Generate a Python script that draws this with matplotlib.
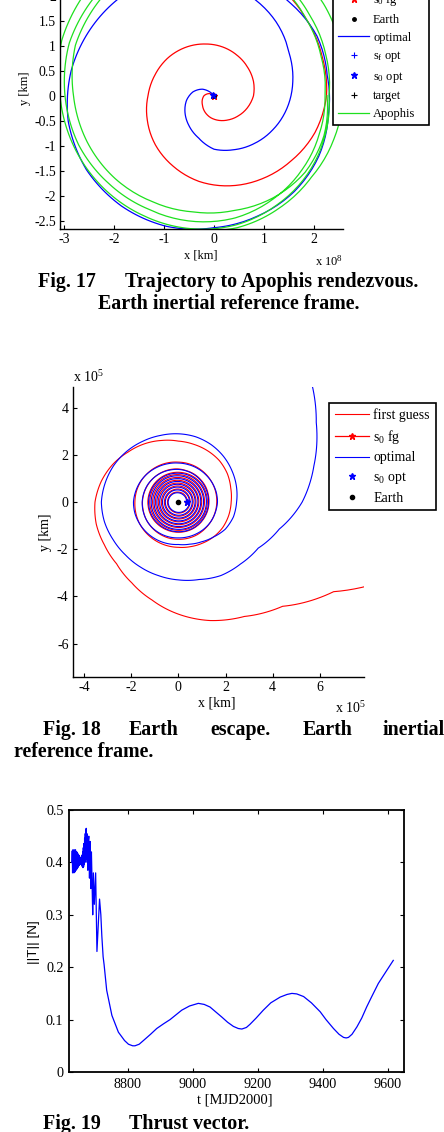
import numpy as np
import matplotlib
matplotlib.use('Agg')
import matplotlib.pyplot as plt
from matplotlib.lines import Line2D
from matplotlib.projections.polar import PolarAxes

W, H = 444, 1132

# ---------------- Fig. 17 : trajectory to Apophis (units 1e8 km) ----------------
# radius read every 20 deg (counter-clockwise), first angle given separately
fg17_theta0 = 120
fg17_r = [0.00, 0.03, 0.12, 0.20, 0.25, 0.30, 0.37, 0.44, 0.50, 0.56, 0.63, 0.71, 0.79,
          0.84, 0.88, 0.93, 0.99, 1.05, 1.12, 1.19, 1.25, 1.32,
          1.42, 1.53, 1.63, 1.74, 1.83, 1.92, 2.02, 2.15, 2.25,
          2.30, 2.40, 2.55, 2.70]
opt17_theta0 = 130
opt17_r = [0.02, 0.26, 0.43, 0.56, 0.67, 0.78, 0.90, 1.07, 1.15, 1.25, 1.36, 1.48,
           1.60, 1.73, 1.93, 2.12, 2.35, 2.55, 2.70, 2.80, 2.90, 2.96, 2.95, 2.88,
           2.78, 2.64, 2.56, 2.50, 2.42, 2.32, 2.30, 2.38, 2.40, 2.45, 2.60]
apo17_theta0 = -100
apo17_r = [2.72, 2.68, 2.60, 2.54, 2.55, 2.58, 2.70, 2.86, 3.00, 3.12, 3.22, 3.28, 3.30,
           3.24, 3.08, 2.98, 2.88, 2.78, 2.70,
           2.62, 2.52, 2.44, 2.36, 2.30, 2.38, 2.50, 2.68, 2.85, 2.97, 3.06, 3.10,
           3.08, 2.98, 2.88, 2.74, 2.62, 2.55,
           2.48, 2.38, 2.30, 2.24, 2.22, 2.28, 2.40, 2.58, 2.75, 2.88, 2.96, 2.98,
           2.95, 2.81, 2.70, 2.58, 2.45, 2.36, 2.33, 2.36, 2.38, 2.34, 2.26]
step17 = 20
earth_xy = (0.0, 0.0)

# ---------------- Fig. 18 : Earth escape (units 1e5 km) ----------------
# dense inner turns, radius every 30 deg (one row per turn)
fg18_core = [0.38, 0.39, 0.41, 0.42, 0.44, 0.45, 0.46, 0.46, 0.46, 0.47, 0.48, 0.49,
             0.50, 0.51, 0.53, 0.55, 0.56, 0.58, 0.59, 0.59, 0.59, 0.60, 0.61, 0.62,
             0.63, 0.64, 0.66, 0.68, 0.69, 0.71, 0.72, 0.72, 0.71, 0.72, 0.73, 0.74,
             0.75, 0.76, 0.78, 0.80, 0.82, 0.84, 0.85, 0.84, 0.83, 0.84, 0.85, 0.86,
             0.87, 0.88, 0.90, 0.92, 0.94, 0.96, 0.97, 0.96, 0.95, 0.96, 0.97, 0.98,
             0.99, 1.00, 1.02, 1.04, 1.06, 1.08, 1.09, 1.08, 1.07, 1.08, 1.09, 1.10,
             1.11, 1.12, 1.14, 1.16, 1.18, 1.20, 1.21, 1.20, 1.19, 1.20, 1.21, 1.22,
             1.23, 1.24, 1.25, 1.26, 1.27, 1.28, 1.29, 1.29, 1.28, 1.28, 1.29, 1.29]
opt18_core = [0.35, 0.36, 0.37, 0.39, 0.41, 0.42, 0.43, 0.43, 0.43, 0.44, 0.45, 0.46,
              0.47, 0.48, 0.49, 0.51, 0.53, 0.54, 0.55, 0.55, 0.55, 0.56, 0.57, 0.58,
              0.59, 0.60, 0.61, 0.63, 0.65, 0.66, 0.67, 0.67, 0.67, 0.68, 0.69, 0.70,
              0.71, 0.72, 0.73, 0.75, 0.77, 0.78, 0.79, 0.79, 0.79, 0.80, 0.81, 0.82,
              0.83, 0.84, 0.85, 0.87, 0.89, 0.90, 0.91, 0.91, 0.91, 0.92, 0.93, 0.94,
              0.95, 0.96, 0.97, 0.99, 1.01, 1.02, 1.03, 1.03, 1.03, 1.04, 1.05, 1.06,
              1.07, 1.08, 1.09, 1.11, 1.13, 1.14, 1.15, 1.15, 1.15, 1.16, 1.17, 1.18,
              1.19, 1.20, 1.21, 1.22, 1.24, 1.25, 1.26, 1.26, 1.25, 1.26, 1.27, 1.27]
core_step = 30
# outer turns, radius every 15 deg, continuing from the core
fg18_outer = [1.30, 1.31, 1.33, 1.34, 1.36, 1.37, 1.40, 1.42, 1.44, 1.46, 1.48, 1.50,
              1.52, 1.53, 1.55, 1.56, 1.57, 1.58, 1.58, 1.59, 1.60, 1.60, 1.61, 1.62,
              1.63, 1.64, 1.65, 1.66, 1.67, 1.68, 1.69, 1.72, 1.75, 1.78, 1.81, 1.83,
              1.84, 1.86, 1.88, 1.89, 1.90, 1.91, 1.92, 1.96, 2.02, 2.10, 2.17, 2.21,
              2.24, 2.30, 2.40, 2.47, 2.50, 2.53, 2.58, 2.70, 2.85, 3.00, 3.20, 3.38,
              3.53, 3.60, 3.62, 3.70, 3.95, 4.30, 4.75, 5.20, 5.60, 6.25, 7.60, 10.5]
opt18_outer = [1.28, 1.29, 1.30, 1.32, 1.34, 1.36, 1.38, 1.40, 1.43, 1.46, 1.49, 1.51,
               1.53, 1.54, 1.55, 1.55, 1.54, 1.53, 1.52, 1.53, 1.55, 1.58, 1.61, 1.63,
               1.66, 1.66, 1.65, 1.64, 1.64, 1.64, 1.65, 1.68, 1.72, 1.77, 1.82, 1.86,
               1.90, 1.90, 1.88, 1.86, 1.84, 1.82, 1.80, 1.85, 1.95, 2.10, 2.30, 2.42,
               2.47, 2.55, 2.63, 2.72, 2.80, 2.86, 2.89, 2.92, 2.98, 3.06, 3.14, 3.20,
               3.26, 3.24, 3.19, 3.17, 3.19, 3.23, 3.30, 3.40, 3.60, 3.72, 3.91, 4.43,
               5.25, 5.95, 6.75, 7.80]
outer_step = 15

# ---------------- Fig. 19 : thrust magnitude ----------------
t19 = [8628, 8629, 8630, 8631, 8632, 8633, 8634, 8635, 8636, 8637, 8638, 8639,
       8640, 8641, 8642, 8643, 8644, 8645, 8646, 8647, 8648, 8649, 8650, 8651,
       8652, 8653, 8654, 8655, 8656, 8657, 8658, 8659, 8660, 8661, 8662, 8663,
       8664, 8665, 8666, 8667, 8668, 8669, 8670, 8671, 8672, 8673, 8674, 8675,
       8676, 8677, 8678, 8680, 8682, 8684, 8686, 8688, 8690, 8692, 8694, 8697,
       8701, 8705, 8709, 8713, 8717, 8720, 8724, 8727, 8735, 8751, 8771, 8790,
       8802, 8815, 8822, 8835, 8848, 8870, 8889, 8910, 8930, 8950, 8966, 8990,
       9017, 9035, 9053, 9070, 9089, 9107, 9125, 9140, 9151, 9165, 9176, 9195,
       9217, 9240, 9269, 9290, 9305, 9320, 9341, 9365, 9392, 9410, 9433, 9450,
       9464, 9472, 9479, 9490, 9505, 9520, 9535, 9550, 9571, 9595, 9617]
T19 = [0.400, 0.422, 0.380, 0.424, 0.382, 0.422, 0.380, 0.424, 0.384, 0.422, 0.382, 0.424,
       0.385, 0.420, 0.386, 0.420, 0.388, 0.418, 0.390, 0.416, 0.392, 0.414, 0.394, 0.412,
       0.396, 0.410, 0.398, 0.408, 0.396, 0.410, 0.394, 0.414, 0.392, 0.420, 0.390, 0.428,
       0.392, 0.436, 0.396, 0.446, 0.400, 0.455, 0.405, 0.462, 0.465, 0.410, 0.455, 0.400,
       0.450, 0.385, 0.440, 0.450, 0.370, 0.440, 0.350, 0.420, 0.360, 0.300, 0.380, 0.320,
       0.380, 0.230, 0.280, 0.330, 0.300, 0.260, 0.220, 0.205, 0.156, 0.108, 0.076, 0.060,
       0.053, 0.050, 0.050, 0.053, 0.060, 0.072, 0.083, 0.092, 0.100, 0.110, 0.118, 0.126,
       0.131, 0.129, 0.124, 0.115, 0.105, 0.095, 0.087, 0.083, 0.082, 0.085, 0.091, 0.103,
       0.118, 0.132, 0.143, 0.148, 0.150, 0.149, 0.144, 0.132, 0.115, 0.100, 0.083, 0.072,
       0.066, 0.065, 0.066, 0.072, 0.086, 0.103, 0.124, 0.143, 0.169, 0.192, 0.213]

# (theta, r) -> (x, y); lines drawn through it get curved between samples
POLAR = PolarAxes.PolarTransform(apply_theta_transforms=False)


def angles(theta0, step, r):
    return np.deg2rad(theta0 + step * np.arange(len(r)))


def polar_line(ax, theta, r, **kw):
    line = Line2D(theta, r, transform=POLAR + ax.transData, **kw)
    path = line.get_path()
    path.should_simplify = False
    # same trick matplotlib uses for polar gridlines
    path._interpolation_steps = 12
    ax.add_line(line)
    return line


def box(left, top, right, bottom):
    return [left / W, 1 - bottom / H, (right - left) / W, (bottom - top) / H]


def put(x, y, s, **kw):
    fig.text(x / W, 1 - y / H, s, **kw)


def fmt(v, pos):
    return '%g' % v


plt.rcParams['font.family'] = 'Liberation Serif'
plt.rcParams['mathtext.fontset'] = 'custom'
plt.rcParams['mathtext.rm'] = 'Liberation Serif'
plt.rcParams['mathtext.it'] = 'Liberation Serif:italic'
plt.rcParams['axes.unicode_minus'] = False

RED, BLUE, GREEN = '#ff0000', '#0000ff', '#1ee01e'
LW = 0.9

fig = plt.figure(figsize=(W / 100, H / 100), dpi=100)

# ---------- panel 1 ----------
ax1 = fig.add_axes(box(60, -34, 343, 229))
th_r = angles(fg17_theta0, step17, fg17_r)
th_b = angles(opt17_theta0, step17, opt17_r)
th_g = angles(apo17_theta0, step17, apo17_r)
polar_line(ax1, th_r, fg17_r, color=RED, lw=LW, label='first guess')
polar_line(ax1, th_r[:1], fg17_r[:1], ls='-', marker='*', color=RED, lw=LW, ms=5,
           label=r'$\mathregular{s_0}$ fg')
ax1.plot(*earth_xy, '.', color='k', ms=5, label='Earth')
polar_line(ax1, th_b, opt17_r, color=BLUE, lw=LW, label='optimal')
polar_line(ax1, th_b[-1:], opt17_r[-1:], ls='none', marker='+', color=BLUE, ms=5, mew=0.8,
           label=r'$\mathregular{s_f}$ opt')
polar_line(ax1, th_b[:1], opt17_r[:1], ls='none', marker='*', color=BLUE, ms=5,
           label=r'$\mathregular{s_0}$ opt')
polar_line(ax1, th_b[-1:], opt17_r[-1:], ls='none', marker='+', color='k', ms=5, mew=0.8,
           label='target')
polar_line(ax1, th_g, apo17_r, color=GREEN, lw=LW, label='Apophis')
ax1.set_xlim(-3.08, 2.58)
ax1.set_ylim(-2.666, 2.594)
ax1.set_xticks([-3, -2, -1, 0, 1, 2])
ax1.set_yticks([-2.5, -2, -1.5, -1, -0.5, 0, 0.5, 1, 1.5, 2])
leg1 = ax1.legend(loc='lower left', bbox_to_anchor=(333 / W, 1 - 125 / H),
                  bbox_transform=fig.transFigure, fontsize=9, fancybox=False,
                  framealpha=1, edgecolor='k', borderaxespad=0, handlelength=2.5,
                  handletextpad=0.3, borderpad=0.4, labelspacing=0.45)
leg1.get_frame().set_linewidth(1.2)

# ---------- panel 2 ----------
ax2 = fig.add_axes(box(72.7, 387, 364, 677))
th_core_r = angles(0, core_step, fg18_core)
th_core_b = angles(0, core_step, opt18_core)
th_out_r = angles(core_step * len(fg18_core), outer_step, fg18_outer)
th_out_b = angles(core_step * len(opt18_core), outer_step, opt18_outer)
th_r2 = np.concatenate([th_core_r, th_out_r])
r_r2 = fg18_core + fg18_outer
th_b2 = np.concatenate([th_core_b, th_out_b])
r_b2 = opt18_core + opt18_outer
polar_line(ax2, th_r2, r_r2, color=RED, lw=0.8, label='first guess')
polar_line(ax2, th_r2[:1], r_r2[:1], ls='-', marker='*', color=RED, lw=LW, ms=5,
           label=r'$\mathregular{s_0}$ fg')
polar_line(ax2, th_b2, r_b2, color=BLUE, lw=0.8, label='optimal')
polar_line(ax2, th_b2[:1], r_b2[:1], ls='none', marker='*', color=BLUE, ms=5,
           label=r'$\mathregular{s_0}$ opt')
ax2.plot(*earth_xy, '.', color='k', ms=6, label='Earth')
ax2.set_xlim(-4.475, 7.869)
ax2.set_ylim(-7.415, 4.873)
ax2.set_xticks([-4, -2, 0, 2, 4, 6])
ax2.set_yticks([-6, -4, -2, 0, 2, 4])
leg2 = ax2.legend(loc='upper left', bbox_to_anchor=(329 / W, 1 - 403 / H),
                  bbox_transform=fig.transFigure, fontsize=10, fancybox=False,
                  framealpha=1, edgecolor='k', borderaxespad=0, handlelength=2.5,
                  handletextpad=0.3, borderpad=0.4, labelspacing=0.4)
leg2.get_frame().set_linewidth(1.2)

for ax, fs in ((ax1, 9.9), (ax2, 10)):
    ax.spines['top'].set_visible(False)
    ax.spines['right'].set_visible(False)
    for s in ('left', 'bottom'):
        ax.spines[s].set_linewidth(1.0)
    ax.tick_params(direction='in', length=3, labelsize=fs, pad=3)
    ax.xaxis.set_major_formatter(plt.FuncFormatter(fmt))
    ax.yaxis.set_major_formatter(plt.FuncFormatter(fmt))

# ---------- panel 3 ----------
ax3 = fig.add_axes(box(69, 810, 404, 1072))
ax3.plot(t19, T19, color=BLUE, lw=0.9)
ax3.set_xlim(8619, 9650)
ax3.set_ylim(0, 0.5)
ax3.set_xticks([8800, 9000, 9200, 9400, 9600])
ax3.set_yticks([0, 0.1, 0.2, 0.3, 0.4, 0.5])
ax3.yaxis.set_major_formatter(plt.FuncFormatter(fmt))
ax3.tick_params(direction='in', length=3, labelsize=10.2, pad=4, top=True, right=True)
for s in ax3.spines.values():
    s.set_linewidth(1.3)

# ---------- axis labels ----------
put(201, 255, 'x [km]', fontsize=9, ha='center', va='center')
put(25, 88, 'y [km]', fontsize=9, ha='center', va='center', rotation=90)
put(315, 266, r'x 10$^{8}$', fontsize=9, ha='left', va='baseline')

put(217, 703, 'x [km]', fontsize=10, ha='center', va='center')
put(45, 532, 'y [km]', fontsize=10, ha='center', va='center', rotation=90)
put(73, 382, r'x 10$^{5}$', fontsize=10, ha='left', va='baseline')
put(335, 713, r'x 10$^{5}$', fontsize=10, ha='left', va='baseline')

put(235, 1100, 't [MJD2000]', fontsize=10.5, ha='center', va='center')
put(34, 942, '||T|| [N]', fontsize=9.6, ha='center', va='center', rotation=90,
    family='Liberation Sans')

# ---------- captions ----------
cap = dict(fontsize=14.4, fontweight='bold', va='baseline')
put(38, 287, 'Fig. 17', ha='left', **cap)
put(125, 287, 'Trajectory to Apophis rendezvous.', ha='left', **cap)
put(229, 309, 'Earth inertial reference frame.', ha='center', **cap)

for x, word in ((43, 'Fig. 18'), (129, 'Earth'), (210, 'escape.'), (303, 'Earth'), (383, 'inertial')):
    put(x, 735, word, ha='left', **cap)
put(14, 757, 'reference frame.', ha='left', **cap)

put(43, 1129, 'Fig. 19', ha='left', **cap)
put(129, 1129, 'Thrust vector.', ha='left', **cap)

fig.savefig('out.png', dpi=100)
